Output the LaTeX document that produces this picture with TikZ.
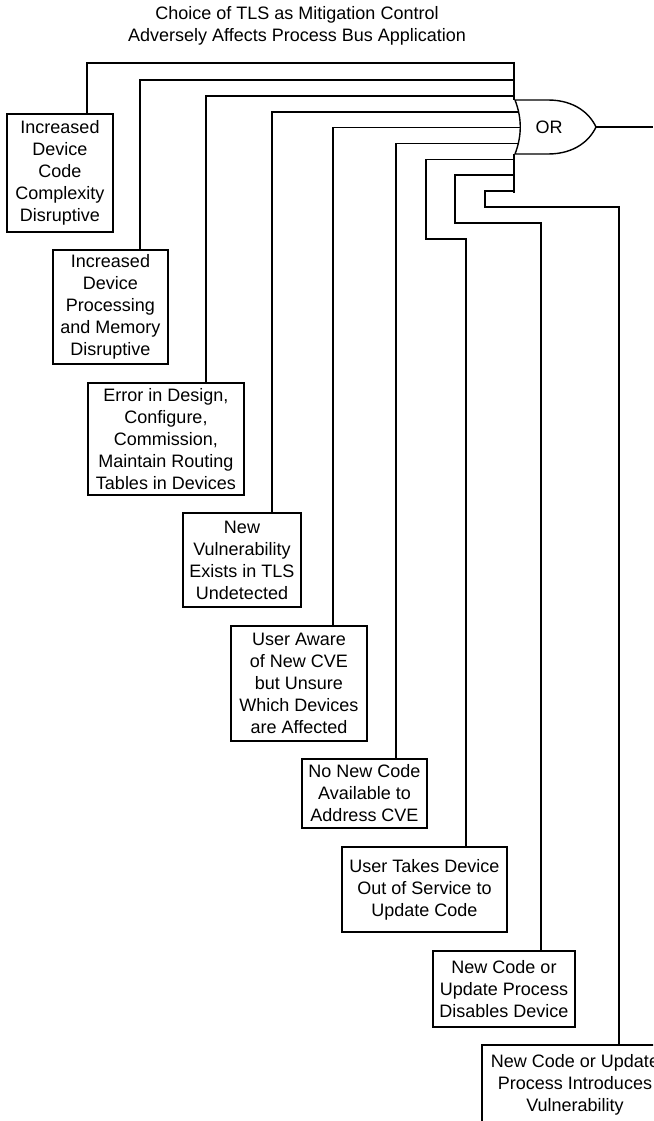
\documentclass[tikz,border=0pt]{standalone}
\usepackage{fontspec}
\setmainfont{Liberation Sans}
\begin{document}
\begin{tikzpicture}[x=1pt,y=-1pt,line width=1.4pt,
  every node/.style={font=\fontsize{18}{22}\selectfont},
  event/.style={draw,rectangle,inner sep=0pt,align=center,fill=white},
  wire/.style={draw,line width=1.4pt}]
\useasboundingbox (0,0) rectangle (653,1121);
\clip (0,0) rectangle (653,1121);

% top event
\node[align=center] (title) at (297,26)
  {Choice of TLS as Mitigation Control\\Adversely Affects Process Bus Application};

% OR gate
\coordinate (gtop) at (515,100);
\coordinate (gbot) at (515,154);
\coordinate (gout) at (596,127);
\coordinate (edge) at (653,127);
\draw (gtop) -- (548,100) .. controls (575,100) and (590,114) .. (gout)
      .. controls (590,140) and (575,154) .. (548,154) -- (gbot)
      .. controls (522,136) and (522,118) .. cycle;
\node (gate) at (549,127) {OR};
\draw[wire] (gout) -- (edge);

% input bus
\coordinate (bustop) at (514,62);
\coordinate (busbot) at (514,193);
\draw[wire] (bustop) -- (514,100);
\draw[wire] (514,154) -- (busbot);
\coordinate (in1) at (514,63);
\coordinate (in2) at (514,80);
\coordinate (in3) at (514,96);
\coordinate (in4) at (518.5,112);
\coordinate (in5) at (520.3,127.5);
\coordinate (in6) at (518.5,143.5);
\coordinate (in7) at (514,159.5);
\coordinate (in8) at (514,175);
\coordinate (in9) at (514,191);

% basic events
\node[event,minimum width=106,minimum height=118] (b1) at (60,173)
  {Increased\\Device\\Code\\Complexity\\Disruptive};
\node[event,minimum width=115,minimum height=114] (b2) at (110.5,307)
  {Increased\\Device\\Processing\\and Memory\\Disruptive};
\node[event,minimum width=156,minimum height=112] (b3) at (166,439)
  {Error in Design,\\Configure,\\Commission,\\Maintain Routing\\Tables in Devices};
\node[event,minimum width=118,minimum height=94] (b4) at (242,560)
  {New\\Vulnerability\\Exists in TLS\\Undetected};
\node[event,minimum width=136,minimum height=115] (b5) at (299,683.5)
  {User Aware\\of New CVE\\but Unsure\\Which Devices\\are Affected};
\node[event,minimum width=125,minimum height=69] (b6) at (364.5,793.5)
  {No New Code\\Available to\\Address CVE};
\node[event,minimum width=165,minimum height=85] (b7) at (424.5,889.5)
  {User Takes Device\\Out of Service to\\Update Code};
\node[event,minimum width=142,minimum height=76] (b8) at (504,989)
  {New Code or\\Update Process\\Disables Device};
\node[event,minimum width=186,minimum height=80] (b9) at (575,1085)
  {New Code or Update\\Process Introduces\\Vulnerability};

% connectors to the gate
\draw[wire] (87,0 |- b1.north) |- (in1);
\draw[wire] (140,0 |- b2.north) |- (in2);
\draw[wire] (206,0 |- b3.north) |- (in3);
\draw[wire] (272,0 |- b4.north) |- (in4);
\draw[wire] (333,0 |- b5.north) |- (in5);
\draw[wire] (396,0 |- b6.north) |- (in6);
\coordinate (k7) at (426,239);
\coordinate (k8) at (455,223);
\coordinate (k9) at (485,207);
\draw[wire] (466,0 |- b7.north) |- (k7) |- (in7);
\draw[wire] (541,0 |- b8.north) |- (k8) |- (in8);
\draw[wire] (619,0 |- b9.north) |- (k9) |- (in9);
\end{tikzpicture}
\end{document}
